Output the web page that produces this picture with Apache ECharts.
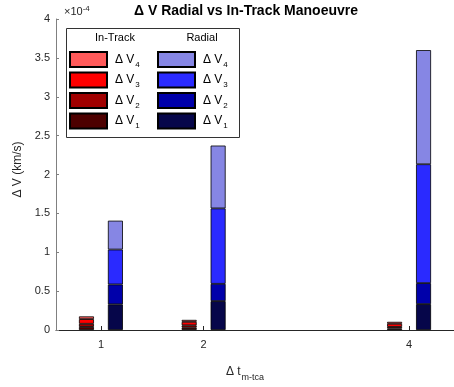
<!DOCTYPE html>
<html>
<head>
<meta charset="utf-8">
<script src="https://cdn.jsdelivr.net/npm/echarts@6/dist/echarts.min.js"></script>
<style>html,body{margin:0;padding:0;background:#fff;}#c{width:454px;height:387px;}</style>
</head>
<body>
<div id="c"></div>
<script>
// Δt values (x positions)
const dtValues = [1, 2, 4];
// Values in units of 1e-4 km/s
const inTrackV1 = [0.04, 0.03, 0.02];
const inTrackV2 = [0.04, 0.03, 0.02];
const inTrackV3 = [0.06, 0.045, 0.04];
const inTrackV4 = [0.035, 0.025, 0.025];
const radialV1 = [0.33, 0.372, 0.333];
const radialV2 = [0.256, 0.222, 0.270];
const radialV3 = [0.449, 0.970, 1.529];
const radialV4 = [0.371, 0.808, 1.468];
const xTicks = [1, 2, 4];
const yTicks = [0, 0.5, 1, 1.5, 2, 2.5, 3, 3.5, 4];

const FONT = 'Liberation Sans, Arial, sans-serif';
const chart = echarts.init(document.getElementById('c'), null, {renderer: 'canvas'});

function mk(name, stack, vals, color) {
  return {
    name: name, type: 'bar', stack: stack,
    barWidth: 15, barGap: '93%',
    // value first so that the stacked dimension is the y value
    data: dtValues.map((x, i) => [vals[i], x]),
    encode: {x: 1, y: 0},
    itemStyle: {color: color, borderColor: '#000', borderWidth: 0.8},
    emphasis: {disabled: true}
  };
}
const itNames = ['IT1', 'IT2', 'IT3', 'IT4'];
const rNames = ['R1', 'R2', 'R3', 'R4'];
const series = [
  mk('IT1', 'it', inTrackV1, '#4d0000'),
  mk('IT2', 'it', inTrackV2, '#a00000'),
  mk('IT3', 'it', inTrackV3, '#ff0000'),
  mk('IT4', 'it', inTrackV4, '#ff5a5a'),
  mk('R1', 'r', radialV1, '#06064a'),
  mk('R2', 'r', radialV2, '#0000aa'),
  mk('R3', 'r', radialV3, '#2a2aff'),
  mk('R4', 'r', radialV4, '#8686e4')
];

const legendRich = {
  a: {fontFamily: FONT, fontSize: 12, color: '#000', lineHeight: 14},
  s: {fontFamily: FONT, fontSize: 8, color: '#000', padding: [10, 0, 0, 1]}
};
function legendFmt(n) { return '{a|Δ V}{s|' + n.slice(-1) + '}'; }
function mkLegend(left, names) {
  return {
    left: left, top: 51, orient: 'vertical', padding: 0,
    itemWidth: 37, itemHeight: 15, itemGap: 3,
    icon: 'rect', selectedMode: false, z: 10,
    data: names.slice().reverse(),
    formatter: legendFmt,
    textStyle: {rich: legendRich, padding: [0, 0, 0, 3]}
  };
}

chart.setOption({
  animation: false,
  backgroundColor: '#fff',
  title: {
    text: 'Δ V Radial vs In-Track Manoeuvre',
    left: 246, top: 4, textAlign: 'center', padding: 0,
    textStyle: {fontFamily: FONT, fontSize: 14, fontWeight: 'bold', color: '#000'}
  },
  legend: [mkLegend(69, itNames), mkLegend(157, rNames)],
  grid: {left: 56, right: 0, top: 19, bottom: 56, containLabel: false},
  xAxis: {
    type: 'value', min: 0.5625, max: 4.4375,
    name: '{a|Δ t}{s|m-tca}', nameLocation: 'middle', nameGap: 32,
    nameTextStyle: {
      padding: [0, 20, 0, 0],
      rich: {
        a: {fontFamily: FONT, fontSize: 12, color: '#262626'},
        s: {fontFamily: FONT, fontSize: 9, color: '#262626', padding: [11, 0, 0, 1]}
      }
    },
    axisLine: {show: true, lineStyle: {color: '#262626', width: 1}},
    axisTick: {show: true, inside: true, length: 4, customValues: xTicks, lineStyle: {color: '#262626'}},
    axisLabel: {customValues: xTicks, margin: 9, fontFamily: FONT, fontSize: 11, color: '#262626'},
    splitLine: {show: false}
  },
  yAxis: {
    type: 'value', min: 0, max: 4, interval: 0.5,
    name: 'Δ V (km/s)', nameLocation: 'middle', nameGap: 19,
    nameTextStyle: {fontFamily: FONT, fontSize: 12, color: '#262626', padding: [0, 0, 0, 10]},
    axisLine: {show: true, lineStyle: {color: '#808080', width: 1}},
    axisTick: {show: true, inside: true, length: 3, lineStyle: {color: '#808080'}},
    axisLabel: {margin: 6, fontFamily: FONT, fontSize: 11, color: '#262626',
      customValues: yTicks},
    splitLine: {show: false}
  },
  graphic: [
    {type: 'rect', z: 5, shape: {x: 66.5, y: 28.5, width: 173, height: 109},
     style: {fill: '#fff', stroke: '#333', lineWidth: 1}},
    {type: 'text', z: 6, x: 115, y: 38,
     style: {text: 'In-Track', fontFamily: FONT, fontSize: 11, fill: '#000', align: 'center', verticalAlign: 'middle'}},
    {type: 'text', z: 6, x: 202, y: 38,
     style: {text: 'Radial', fontFamily: FONT, fontSize: 11, fill: '#000', align: 'center', verticalAlign: 'middle'}},
    {type: 'text', z: 6, x: 64, y: 5,
     style: {text: '×10{p|-4}', fontFamily: FONT, fontSize: 11, fill: '#262626',
       rich: {p: {fontFamily: FONT, fontSize: 8, fill: '#262626', padding: [0, 0, 6, 0]}}}}
  ],
  series: series
});
</script>
</body>
</html>
